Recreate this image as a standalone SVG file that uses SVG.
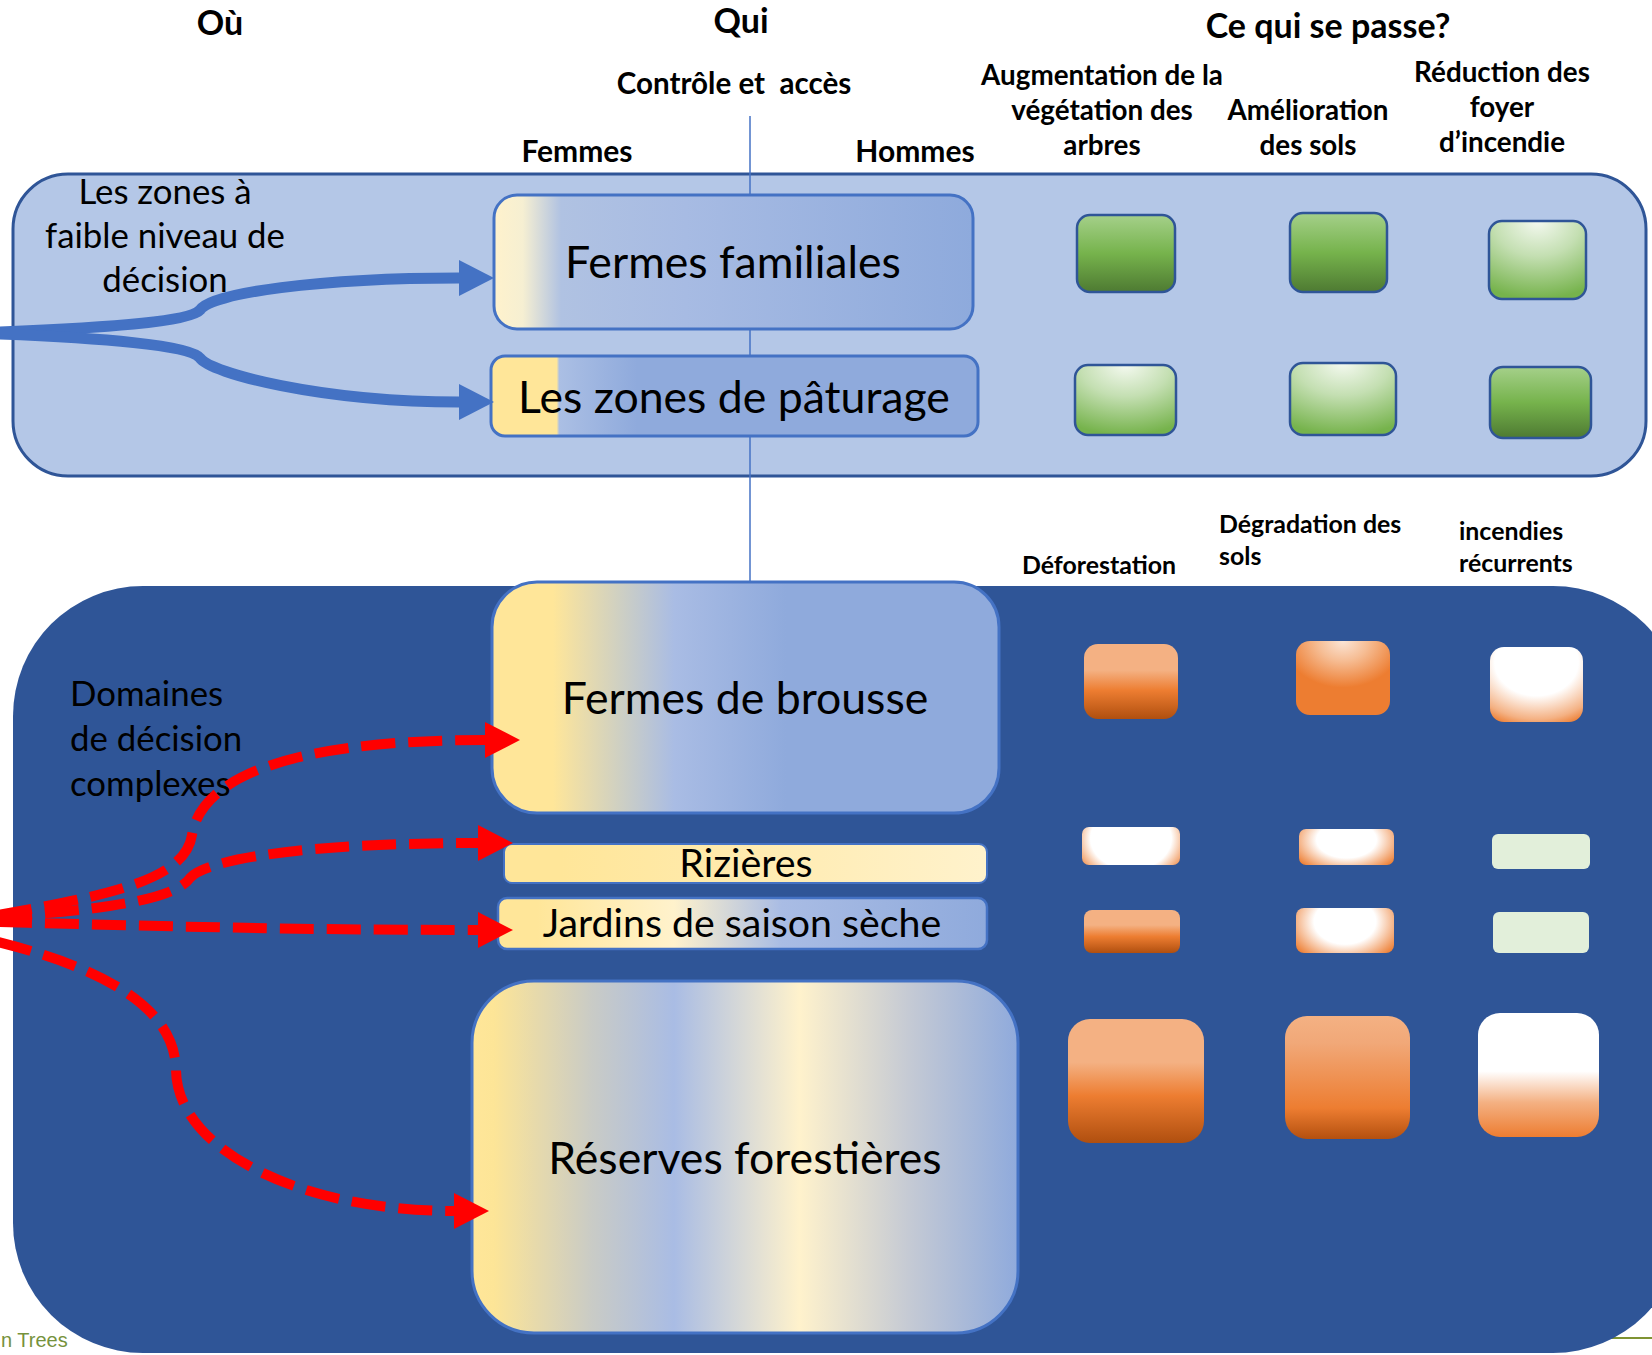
<svg xmlns="http://www.w3.org/2000/svg" width="1652" height="1355" viewBox="0 0 1652 1355">
<style>
text { font-family: Lato, "Liberation Sans", sans-serif; fill: #000; }
.h1 { font-weight: 700; font-size: 34px; text-anchor: middle; }
.h2 { font-weight: 700; font-size: 30px; text-anchor: middle; }
.h3 { font-weight: 700; font-size: 27.8px; text-anchor: middle; }
.h4 { font-weight: 700; font-size: 24.9px; }
.lbl { font-size: 34.8px; }
.box { font-size: 44.6px; text-anchor: middle; }
.zone { stroke: #4472c4; stroke-width: 3; }
.g { stroke: #2f5597; stroke-width: 2.5; }
.blue { fill: none; stroke: #4472c4; stroke-width: 11; marker-end: url(#ab); }
.red { fill: none; stroke: #ff0000; stroke-width: 10; stroke-dasharray: 34 13; marker-end: url(#ar); }
</style>
<defs>
<marker id="ab" markerUnits="userSpaceOnUse" markerWidth="40" markerHeight="40" refX="0" refY="18" orient="auto" overflow="visible"><path d="M0,0 L35,18 L0,36 z" fill="#4472c4"/></marker>
<marker id="ar" markerUnits="userSpaceOnUse" markerWidth="40" markerHeight="40" refX="0" refY="18" orient="auto" overflow="visible"><path d="M0,0 L35,18 L0,36 z" fill="#ff0000"/></marker>
<linearGradient id="gFF" x1="0" y1="0" x2="1" y2="0">
<stop offset="0" stop-color="#fff2cc"/><stop offset="0.06" stop-color="#f6efd2"/><stop offset="0.14" stop-color="#b0c2e2"/><stop offset="0.4" stop-color="#a7bbe3"/><stop offset="1" stop-color="#8eaadc"/>
</linearGradient>
<linearGradient id="gZP" x1="0" y1="0" x2="1" y2="0">
<stop offset="0" stop-color="#ffe699"/><stop offset="0.135" stop-color="#ffe699"/><stop offset="0.14" stop-color="#abbfe4"/><stop offset="0.3" stop-color="#8faadc"/><stop offset="1" stop-color="#8faadc"/>
</linearGradient>
<linearGradient id="gFB" x1="0" y1="0" x2="1" y2="0">
<stop offset="0" stop-color="#ffe699"/><stop offset="0.12" stop-color="#ffe699"/><stop offset="0.25" stop-color="#cfd0c2"/><stop offset="0.36" stop-color="#a9bce4"/><stop offset="0.58" stop-color="#8faadc"/><stop offset="1" stop-color="#8faadc"/>
</linearGradient>
<linearGradient id="gRZ" x1="0" y1="0" x2="1" y2="0">
<stop offset="0" stop-color="#ffe699"/><stop offset="0.12" stop-color="#ffe699"/><stop offset="0.3" stop-color="#ffe8a3"/><stop offset="1" stop-color="#fff2cc"/>
</linearGradient>
<linearGradient id="gJS" x1="0" y1="0" x2="1" y2="0">
<stop offset="0" stop-color="#ffe699"/><stop offset="0.08" stop-color="#ffe699"/><stop offset="0.36" stop-color="#fff2cc"/><stop offset="0.58" stop-color="#a9bce4"/><stop offset="1" stop-color="#8faadc"/>
</linearGradient>
<linearGradient id="gRF" x1="0" y1="0" x2="1" y2="0">
<stop offset="0" stop-color="#ffe699"/><stop offset="0.04" stop-color="#fde597"/><stop offset="0.22" stop-color="#c9cbc6"/><stop offset="0.37" stop-color="#a9bce4"/><stop offset="0.6" stop-color="#fff2cc"/><stop offset="0.8" stop-color="#c5cad4"/><stop offset="1" stop-color="#8faadc"/>
</linearGradient>
<linearGradient id="gGL" x1="0" y1="0" x2="0" y2="1">
<stop offset="0" stop-color="#a5d08a"/><stop offset="0.5" stop-color="#76b34c"/><stop offset="1" stop-color="#4e7a32"/>
</linearGradient>
<radialGradient id="gGR" cx="0.5" cy="0" r="1">
<stop offset="0" stop-color="#f4f9f0"/><stop offset="0.45" stop-color="#c4dfb2"/><stop offset="1" stop-color="#76b34c"/>
</radialGradient>
<linearGradient id="gOL" x1="0" y1="0" x2="0" y2="1">
<stop offset="0" stop-color="#f4b183"/><stop offset="0.35" stop-color="#f4b183"/><stop offset="0.62" stop-color="#ed7d31"/><stop offset="1" stop-color="#b04f0f"/>
</linearGradient>
<linearGradient id="gOL2" x1="0" y1="0" x2="0" y2="1">
<stop offset="0" stop-color="#f4b183"/><stop offset="0.22" stop-color="#f1a878"/><stop offset="0.75" stop-color="#ed7d31"/><stop offset="1" stop-color="#b4500f"/>
</linearGradient>
<linearGradient id="gOL3" x1="0" y1="0" x2="0" y2="1">
<stop offset="0" stop-color="#ffffff"/><stop offset="0.47" stop-color="#ffffff"/><stop offset="0.72" stop-color="#f4b183"/><stop offset="1" stop-color="#ed7d31"/>
</linearGradient>
<radialGradient id="gOR" cx="0.5" cy="0" r="0.9">
<stop offset="0" stop-color="#fbe5d6"/><stop offset="0.3" stop-color="#f6bd94"/><stop offset="0.7" stop-color="#ed7d31"/><stop offset="1" stop-color="#ed7d31"/>
</radialGradient>
<radialGradient id="gOW1" cx="0.5" cy="0.2" r="0.9">
<stop offset="0" stop-color="#ffffff"/><stop offset="0.5" stop-color="#ffffff"/><stop offset="0.85" stop-color="#f4b183"/><stop offset="1" stop-color="#ed7d31"/>
</radialGradient>
<radialGradient id="gOW3" cx="0.5" cy="0.3" r="0.75" gradientTransform="translate(0.5,0.3) scale(1,2) translate(-0.5,-0.3)">
<stop offset="0" stop-color="#ffffff"/><stop offset="0.55" stop-color="#ffffff"/><stop offset="0.85" stop-color="#ed7d31"/><stop offset="1" stop-color="#ed7d31"/>
</radialGradient>
<radialGradient id="gOW2" cx="0.5" cy="0.3" r="0.7" gradientTransform="translate(0.5,0.3) scale(1,1.6) translate(-0.5,-0.3)">
<stop offset="0" stop-color="#ffffff"/><stop offset="0.45" stop-color="#ffffff"/><stop offset="0.9" stop-color="#ed7d31"/><stop offset="1" stop-color="#ed7d31"/>
</radialGradient>
</defs>

<line x1="1500" y1="1338" x2="1652" y2="1338" stroke="#7f9332" stroke-width="2"/>
<text x="1" y="1347" style="font-family:'Liberation Sans',Arial,sans-serif;font-size:20px;fill:#76923c">n Trees</text>

<g id="headers">
<text class="h1" x="220" y="35">Où</text>
<text class="h1" x="741" y="33">Qui</text>
<text class="h1" x="1328" y="38">Ce qui se passe?</text>
<text class="h2" x="734" y="94" xml:space="preserve" style="font-size:29.6px">Contrôle et  accès</text>
<text class="h2" x="577" y="162">Femmes</text>
<text class="h2" x="915" y="162">Hommes</text>
<text class="h3" x="1102" y="85">Augmentation de la</text>
<text class="h3" x="1102" y="120">végétation des</text>
<text class="h3" x="1102" y="155">arbres</text>
<text class="h3" x="1308" y="120">Amélioration</text>
<text class="h3" x="1308" y="155">des sols</text>
<text class="h3" x="1502" y="82">Réduction des</text>
<text class="h3" x="1502" y="117">foyer</text>
<text class="h3" x="1502" y="152">d’incendie</text>
<text class="h4" x="1099" y="574" text-anchor="middle">Déforestation</text>
<text class="h4" x="1219" y="533">Dégradation des</text>
<text class="h4" x="1219" y="565">sols</text>
<text class="h4" x="1459" y="540">incendies</text>
<text class="h4" x="1459" y="572">récurrents</text>
</g>

<g id="panel-low-decision">
<rect x="13" y="174" width="1633" height="302" rx="55" fill="#b4c7e7" stroke="#2f5597" stroke-width="3"/>
<text class="lbl" x="165" y="204" text-anchor="middle">Les zones à</text>
<text class="lbl" x="165" y="248" text-anchor="middle">faible niveau de</text>
<text class="lbl" x="165" y="292" text-anchor="middle">décision</text>
</g>

<g id="panel-complex">
<rect x="13" y="586" width="1670" height="767" rx="130" fill="#2f5597"/>
<text class="lbl" x="70" y="706">Domaines</text>
<text class="lbl" x="70" y="751">de décision</text>
<text class="lbl" x="70" y="796">complexes</text>
</g>

<line id="axis" x1="750" y1="116" x2="750" y2="584" stroke="#4472c4" stroke-width="1.5"/>

<g id="fermes-familiales">
<rect class="zone" x="494" y="195" width="479" height="134" rx="23" fill="url(#gFF)"/>
<text class="box" x="733" y="278">Fermes familiales</text>
</g>
<g id="zones-paturage">
<rect class="zone" x="491" y="356" width="487" height="80" rx="14" fill="url(#gZP)"/>
<text class="box" x="734" y="413">Les zones de pâturage</text>
</g>
<g id="fermes-brousse">
<rect class="zone" x="492" y="582" width="507" height="231" rx="45" fill="url(#gFB)"/>
<text class="box" x="745" y="714">Fermes de brousse</text>
</g>
<g id="rizieres">
<rect x="504" y="844" width="483" height="39" rx="8" fill="url(#gRZ)" stroke="#4472c4" stroke-width="2"/>
<text class="box" x="746" y="877" style="font-size:39.4px">Rizières</text>
</g>
<g id="jardins">
<rect x="498" y="898" width="489" height="51" rx="9" fill="url(#gJS)" stroke="#4472c4" stroke-width="2.5"/>
<text class="box" x="742" y="937" style="font-size:39.3px">Jardins de saison sèche</text>
</g>
<g id="reserves">
<rect class="zone" x="472" y="981" width="546" height="352" rx="62" fill="url(#gRF)"/>
<text class="box" x="745" y="1174">Réserves forestières</text>
</g>

<g id="indicators-top">
<rect class="g" x="1077" y="215" width="98" height="77" rx="13" fill="url(#gGL)"/>
<rect class="g" x="1290" y="213" width="97" height="79" rx="13" fill="url(#gGL)"/>
<rect class="g" x="1489" y="221" width="97" height="78" rx="13" fill="url(#gGR)"/>
<rect class="g" x="1075" y="365" width="101" height="70" rx="13" fill="url(#gGR)"/>
<rect class="g" x="1290" y="363" width="106" height="72" rx="13" fill="url(#gGR)"/>
<rect class="g" x="1490" y="367" width="101" height="71" rx="13" fill="url(#gGL)"/>
</g>

<g id="indicators-bottom">
<rect x="1084" y="644" width="94" height="75" rx="14" fill="url(#gOL)"/>
<rect x="1296" y="641" width="94" height="74" rx="14" fill="url(#gOR)"/>
<rect x="1490" y="647" width="93" height="75" rx="14" fill="url(#gOW1)"/>
<rect x="1082" y="827" width="98" height="38" rx="7" fill="url(#gOW3)"/>
<rect x="1299" y="829" width="95" height="36" rx="7" fill="url(#gOW2)"/>
<rect x="1492" y="834" width="98" height="35" rx="6" fill="#e2efda"/>
<rect x="1084" y="910" width="96" height="43" rx="8" fill="url(#gOL)"/>
<rect x="1296" y="908" width="98" height="45" rx="8" fill="url(#gOW2)"/>
<rect x="1493" y="912" width="96" height="41" rx="6" fill="#e2efda"/>
<rect x="1068" y="1019" width="136" height="124" rx="22" fill="url(#gOL)"/>
<rect x="1285" y="1016" width="125" height="123" rx="22" fill="url(#gOL2)"/>
<rect x="1478" y="1013" width="121" height="124" rx="22" fill="url(#gOL3)"/>
</g>

<g id="connectors">
<path class="blue" d="M-2,332 C100,328 190,322 200,310 C210,293 320,278 459,278"/>
<path class="blue" d="M-2,334 C100,338 190,345 200,358 C210,373 320,402 459,402"/>
<path class="red" d="M-2,915 C110,895 185,880 192,835 C200,785 270,740 485,740"/>
<path class="red" d="M-2,917 C100,910 175,900 190,878 C205,860 300,843 478,843"/>
<path class="red" d="M-2,922 C150,926 300,930 478,930"/>
<path class="red" d="M-2,942 C110,970 175,1010 176,1070 C177,1150 300,1211 454,1211"/>
</g>
</svg>
